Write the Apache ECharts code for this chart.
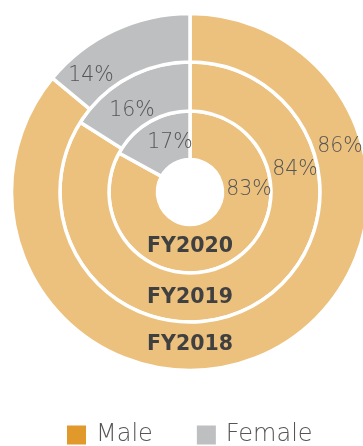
<!DOCTYPE html>
<html>
<head>
<meta charset="utf-8">
<style>
  html, body { margin: 0; padding: 0; background: #ffffff; }
  #chart { width: 363px; height: 446px; }
</style>
<script src="https://cdn.jsdelivr.net/npm/echarts@6/dist/echarts.min.js"></script>
</head>
<body>
<div id="chart"></div>
<script>
// Gender split per fiscal year, innermost ring = most recent year
const years = ['FY2020', 'FY2019', 'FY2018'];
const genders = ['Male', 'Female'];
const malePct = [83, 84, 86];
const femalePct = [17, 16, 14];

// Ring geometry (pixels)
const cx = 190, cy = 192;
const ringRadii = [[32.5, 81], [81, 130], [130, 178.5]];
// Label anchors as offsets from the centre, per ring: [male, female]
const labelOffsets = [
  [[59, -2], [-20, -49]],
  [[105, -22], [-58, -81]],
  [[150, -45], [-99, -116]]
];
// Year captions sit in the lower part of each ring
const captionY = [247, 298, 345];

const sliceColors = ['#ECC17D', '#BEBFC1'];
const legendColors = ['#E0992A', '#BEBFC1'];

const series = years.map((yr, i) => ({
  type: 'pie',
  name: yr,
  center: [cx, cy],
  radius: ringRadii[i],
  startAngle: 90,
  clockwise: true,
  silent: true,
  animation: false,
  itemStyle: { borderColor: '#ffffff', borderWidth: 3.5 },
  label: {
    show: true,
    position: 'inside',
    formatter: '{c}%',
    fontFamily: 'DejaVu Sans',
    fontWeight: 300,
    fontSize: 20.5,
    color: '#555555'
  },
  labelLine: { show: false },
  labelLayout: function (p) {
    const off = labelOffsets[i][p.dataIndex];
    return { x: cx + off[0], y: cy + off[1], align: 'center', verticalAlign: 'middle' };
  },
  data: [
    { name: genders[0], value: malePct[i], itemStyle: { color: sliceColors[0] } },
    { name: genders[1], value: femalePct[i], itemStyle: { color: sliceColors[1] } }
  ]
}));

const chart = echarts.init(document.getElementById('chart'), null, { renderer: 'canvas' });
chart.setOption({
  animation: false,
  legend: {
    left: 62,
    top: 418,
    itemWidth: 19,
    itemHeight: 19,
    itemGap: 44,
    icon: 'rect',
    selectedMode: false,
    textStyle: {
      fontFamily: 'DejaVu Sans',
      fontWeight: 300,
      fontSize: 24,
      color: '#555555',
      padding: [0, 0, 0, 5]
    },
    data: genders.map((g, k) => ({
      name: g,
      itemStyle: { color: legendColors[k], borderWidth: 0 }
    }))
  },
  graphic: years.map((yr, i) => ({
    type: 'text',
    x: cx,
    y: captionY[i],
    silent: true,
    style: {
      text: yr,
      fontFamily: 'DejaVu Sans',
      fontWeight: 'bold',
      fontSize: 20.5,
      fill: '#404040',
      align: 'center',
      verticalAlign: 'middle'
    },
    z: 100
  })),
  series: series
});
</script>
</body>
</html>
